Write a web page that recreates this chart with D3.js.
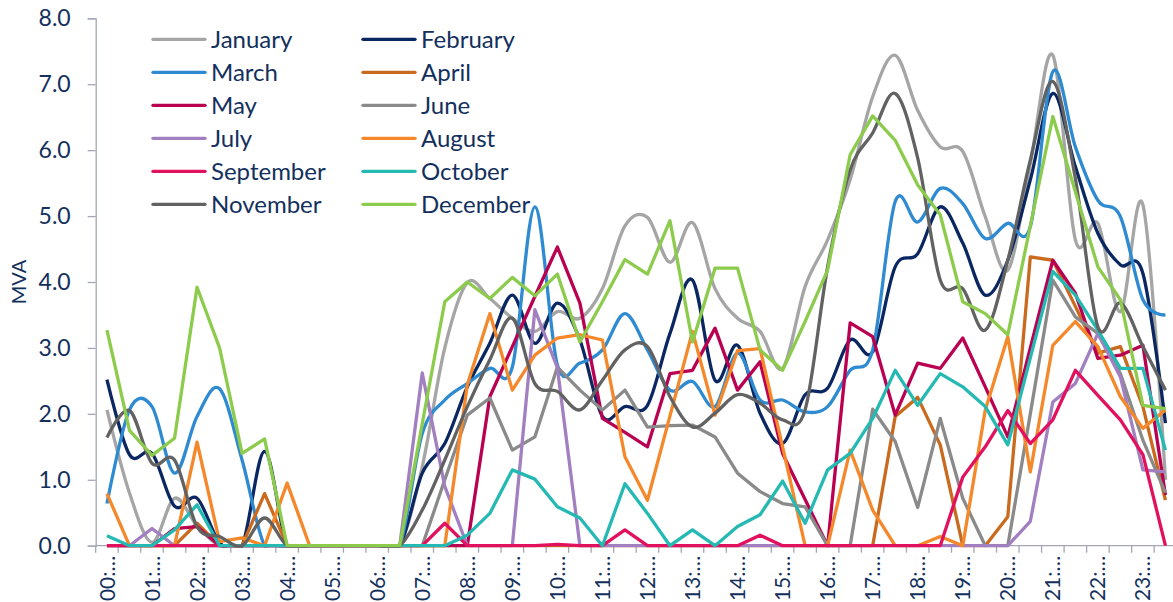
<!DOCTYPE html>
<html>
<head>
<meta charset="utf-8">
<script src="https://cdn.jsdelivr.net/npm/d3@7"></script>
<style>
  body { margin: 0; background: #fff; }
  text { font-family: Lato, "Open Sans", sans-serif; fill: #13305d; }
</style>
</head>
<body>
<svg width="1173" height="602"></svg>
<script>
// half-hour slots, 00:00 .. 23:30
const times = d3.range(48).map(i => String(Math.floor(i / 2)).padStart(2, '0') + (i % 2 ? ':30' : ':00'));

const months = ['January', 'February', 'March', 'April', 'May', 'June',
                'July', 'August', 'September', 'October', 'November', 'December'];
const colors = ['#a5a5a5', '#0b2761', '#2f8bd1', '#c96a1e', '#ba0050', '#8a8a8a',
                '#a27fc0', '#f5882a', '#e2115e', '#25b9b3', '#626262', '#8dcb4c'];
const smooth = ['January', 'February', 'March', 'November'];

const january  = [2.06,0.8,0.05,0.72,0.3,0,0,0,0,0,0,0,0,0,1.2,3.0,3.99,3.75,3.45,3.25,3.55,3.45,3.9,4.85,4.98,4.3,4.9,3.9,3.45,3.25,2.69,3.93,4.64,5.55,6.81,7.44,6.6,6.05,5.98,4.99,4.18,5.8,7.44,4.64,4.89,3.55,5.17,1.0];
const february = [2.52,1.38,1.4,0.6,0.72,0.05,0,1.43,0,0,0,0,0,0,1.1,1.55,2.41,3.07,3.8,3.07,3.68,3.12,1.96,2.11,2.13,3.22,4.03,2.51,3.04,2.01,1.55,2.29,2.39,3.12,2.94,4.23,4.43,5.14,4.59,3.8,4.33,5.55,6.86,5.75,4.74,4.26,4.13,1.86];
const march    = [0.64,2.06,2.11,1.1,1.96,2.38,1.3,0,0,0,0,0,0,0,1.7,2.21,2.46,2.69,2.71,5.14,2.74,2.77,2.97,3.52,2.97,2.36,2.49,2.11,2.92,2.21,2.21,2.03,2.11,2.66,2.97,5.22,4.91,5.42,5.19,4.66,4.89,4.84,7.19,6.05,5.24,4.99,3.73,3.5];
const april    = [0,0,0,0,0.34,0,0,0.79,0,0,0,0,0,0,0,0,0,0,0,0,0,0,0,0,0,0,0,0,0,0,0,0,0,0,0,1.96,2.25,1.53,0,0,0.44,4.38,4.33,3.63,2.92,3.02,2.11,0.69];
const may      = [0,0,0,0.26,0.29,0,0,0,0,0,0,0,0,0,0,0,0,2.26,3.02,3.78,4.53,3.68,1.93,1.72,1.5,2.61,2.66,3.3,2.36,2.79,1.4,0.7,0,3.38,3.17,1.98,2.77,2.69,3.15,2.41,1.65,3.0,4.33,3.83,2.84,2.89,3.04,0.77];
const june     = [0,0,0,0,0,0,0,0,0,0,0,0,0,0,0,1.0,1.98,2.24,1.45,1.65,2.71,2.36,2.06,2.36,1.8,1.82,1.83,1.65,1.1,0.82,0.64,0.59,0,0,2.07,1.58,0.58,1.93,0.72,0,0,2.0,4.03,3.47,3.22,2.61,1.6,0.8];
const july     = [0,0,0.26,0,0,0,0,0,0,0,0,0,0,0,2.62,0.9,0,0,0,3.58,2.7,0,0,0,0,0,0,0,0,0,0,0,0,0,0,0,0,0,0,0,0,0.37,2.18,2.46,3.22,2.56,1.15,1.12];
const august   = [0.79,0,0,0,1.57,0.06,0.12,0,0.95,0,0,0,0,0,0,0,2.44,3.52,2.36,2.89,3.15,3.2,3.12,1.35,0.69,1.97,3.25,1.98,2.96,2.99,1.5,0,0,1.45,0.54,0,0,0.14,0,2.06,3.17,1.12,3.04,3.4,3.02,2.26,1.78,2.06];
const september= [0,0,0,0,0,0,0,0,0,0,0,0,0,0,0,0.34,0,0,0,0,0.02,0,0,0.24,0,0,0,0,0,0.16,0,0,0,0,0,0,0,0,1.04,1.5,2.05,1.55,1.91,2.66,2.28,1.91,1.38,0];
const october  = [0.15,0,0,0.24,0.62,0,0,0,0,0,0,0,0,0,0,0,0.16,0.49,1.15,1.01,0.59,0.42,0,0.94,0.49,0,0.24,0,0.29,0.47,0.98,0.34,1.15,1.4,1.93,2.66,2.13,2.61,2.41,2.11,1.53,2.85,4.16,3.8,3.27,2.69,2.69,1.45];
const november = [1.64,2.05,1.25,1.3,0.29,0.14,0,0.42,0,0,0,0,0,0,0.54,1.3,2.11,2.82,3.45,2.46,2.34,2.06,2.51,2.97,3.02,2.26,1.8,2.01,2.29,2.16,1.91,2.06,4.23,5.7,6.26,6.86,5.88,4.03,3.9,3.27,4.33,5.85,7.04,5.57,3.32,3.68,3.02,2.36];
const december = [3.27,1.75,1.37,1.63,3.92,3.0,1.4,1.62,0,0,0,0,0,0,1.85,3.7,4.0,3.75,4.07,3.79,4.12,3.09,3.7,4.34,4.12,4.93,3.09,4.21,4.21,2.97,2.66,3.4,4.18,5.93,6.52,6.15,5.47,5.02,3.70,3.52,3.20,4.85,6.51,5.37,4.23,3.73,2.13,2.08];

const yTicks = [0, 1, 2, 3, 4, 5, 6, 7, 8];

const allValues = [january, february, march, april, may, june, july, august, september, october, november, december];
const series = months.map((m, k) => ({ name: m, color: colors[k], values: allValues[k] }));

const svg = d3.select('svg');
const plotLeft = 95.7, plotRight = 1176.7, plotTop = 18.3, plotBottom = 545.7;

const x = d3.scaleBand().domain(d3.range(times.length)).range([plotLeft, plotRight]).padding(0);
const y = d3.scaleLinear().domain([0, 8]).range([plotBottom, plotTop]);
const axisColor = '#a3a6b6';

// y axis
const yAxis = svg.append('g')
    .attr('transform', `translate(${plotLeft},0)`)
    .call(d3.axisLeft(y).tickValues(yTicks).tickFormat(d3.format('.1f')).tickSize(8).tickPadding(17));
yAxis.select('.domain').attr('stroke', axisColor).attr('stroke-width', 1.3);
yAxis.selectAll('.tick line').attr('stroke', axisColor).attr('stroke-width', 1.3);
yAxis.selectAll('text').attr('font-size', 23).attr('fill', '#13305d');

svg.append('text')
    .attr('transform', `translate(19,${(plotTop + plotBottom) / 2}) rotate(-90)`)
    .attr('text-anchor', 'middle')
    .attr('dy', '0.36em')
    .attr('font-size', 20)
    .text('MVA');

// x axis: ticks on every category boundary, labels on the hour
const xAxis = svg.append('g').attr('transform', `translate(0,${plotBottom})`);
xAxis.append('line')
    .attr('x1', plotLeft).attr('x2', plotRight)
    .attr('stroke', axisColor).attr('stroke-width', 1.3);
xAxis.selectAll('line.tk')
    .data(d3.range(times.length + 1))
    .join('line')
    .attr('class', 'tk')
    .attr('x1', i => i < times.length ? x(i) : plotRight)
    .attr('x2', i => i < times.length ? x(i) : plotRight)
    .attr('y1', 0).attr('y2', 7)
    .attr('stroke', axisColor).attr('stroke-width', 1.3);

const labelAxis = svg.append('g')
    .attr('transform', `translate(0,${plotBottom})`)
    .call(d3.axisBottom(x)
        .tickValues(d3.range(0, times.length, 2))
        .tickSize(0)
        .tickFormat(i => times[i].slice(0, 3) + '\u2026'));
labelAxis.select('.domain').remove();
labelAxis.selectAll('text')
    .attr('font-size', 21)
    .attr('fill', '#13305d')
    .attr('text-anchor', 'end')
    .attr('transform', 'rotate(-90)')
    .attr('x', -10)
    .attr('y', 0)
    .attr('dy', '0.36em');

// lines
svg.append('clipPath').attr('id', 'plot')
    .append('rect').attr('x', plotLeft).attr('y', 0).attr('width', plotRight - plotLeft).attr('height', plotBottom + 2);

const g = svg.append('g').attr('clip-path', 'url(#plot)');
series.forEach(s => {
    const line = d3.line()
        .x((d, i) => x(i) + x.bandwidth() / 2)
        .y(d => y(d))
        .curve(smooth.includes(s.name) ? d3.curveCatmullRom.alpha(0) : d3.curveLinear);
    g.append('path')
        .datum(s.values)
        .attr('fill', 'none')
        .attr('stroke', s.color)
        .attr('stroke-width', 3.3)
        .attr('stroke-linejoin', 'round')
        .attr('d', line);
});

// legend, two columns
const legend = svg.append('g');
series.forEach((s, k) => {
    const col = k % 2, row = Math.floor(k / 2);
    const lx = col ? 363 : 153;
    const ly = 39.3 + row * 33;
    legend.append('line')
        .attr('x1', lx).attr('x2', lx + 52)
        .attr('y1', ly).attr('y2', ly)
        .attr('stroke', s.color).attr('stroke-width', 3.3).attr('stroke-linecap', 'round');
    legend.append('text')
        .attr('x', lx + 58).attr('y', ly)
        .attr('dy', '0.36em')
        .attr('font-size', 24)
        .text(s.name);
});
</script>
</body>
</html>
